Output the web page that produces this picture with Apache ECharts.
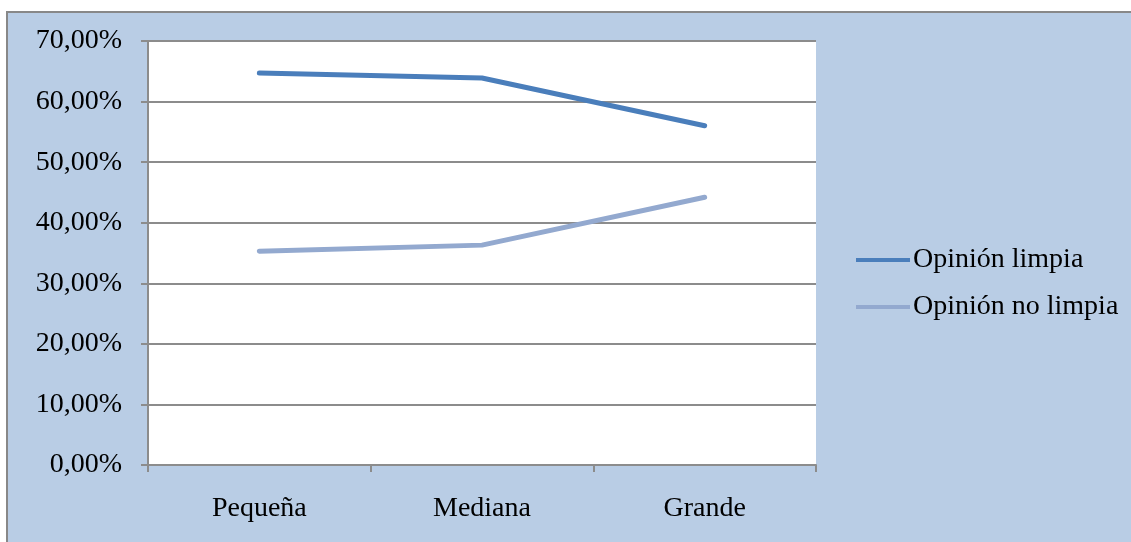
<!DOCTYPE html>
<html lang="es">
<head>
    <meta charset="UTF-8">
    <title>Opinión</title>
    <script src="https://cdn.jsdelivr.net/npm/echarts@6/dist/echarts.min.js"></script>
    <style>
        html, body { margin: 0; padding: 0; background: #fff; }
        #chart { width: 1131px; height: 542px; }
    </style>
</head>
<body>
    <div id="chart"></div>
    <script>
        // datos
        var categorias = ['Pequeña', 'Mediana', 'Grande'];
        var limpia = [64.7, 63.9, 56.0];
        var noLimpia = [35.3, 36.3, 44.2];
        var nombres = ['Opinión limpia', 'Opinión no limpia'];

        var myChart = echarts.init(document.getElementById('chart'));
        var fuente = 'Liberation Serif';

        var option = {
            animation: false,
            backgroundColor: '#fff',
            graphic: [{
                type: 'rect',
                z: -10,
                shape: { x: 7, y: 12, width: 1140, height: 540 },
                style: { fill: '#b9cde5', stroke: '#888888', lineWidth: 2 }
            }],
            grid: { left: 148, top: 41, right: 315, bottom: 77, backgroundColor: '#fff', show: true, borderWidth: 0 },
            legend: {
                orient: 'vertical',
                left: 856,
                top: 246,
                padding: 0,
                itemWidth: 54,
                itemHeight: 14,
                itemGap: 19,
                icon: 'path://M0,5 L54,5 L54,9 L0,9 Z',
                textStyle: { fontFamily: fuente, fontSize: 28, lineHeight: 28, color: '#000', padding: [0, 0, 0, -2] },
                data: nombres
            },
            xAxis: {
                type: 'category',
                data: categorias,
                axisLine: { lineStyle: { color: '#8c8c8c', width: 2 } },
                axisTick: { show: true, length: 7, lineStyle: { color: '#8c8c8c', width: 2 } },
                axisLabel: { fontFamily: fuente, fontSize: 28, color: '#000', margin: 30 }
            },
            yAxis: {
                type: 'value',
                min: 0,
                max: 70,
                interval: 10,
                axisLine: { show: true, lineStyle: { color: '#8c8c8c', width: 2 } },
                axisTick: { show: true, length: 7, lineStyle: { color: '#8c8c8c', width: 2 } },
                splitLine: { lineStyle: { color: '#8c8c8c', width: 2 } },
                axisLabel: {
                    fontFamily: fuente, fontSize: 28, color: '#000', margin: 26,
                    padding: [4, 0, 0, 0],
                    formatter: function (v) { return v.toFixed(2).replace('.', ',') + '%'; }
                }
            },
            series: [{
                name: nombres[0],
                type: 'line',
                data: limpia,
                symbol: 'none',
                color: '#4a7ebb',
                lineStyle: { width: 5, cap: 'round', join: 'round' }
            }, {
                name: nombres[1],
                type: 'line',
                data: noLimpia,
                symbol: 'none',
                color: '#93a9cf',
                lineStyle: { width: 5, cap: 'round', join: 'round' }
            }]
        };

        myChart.setOption(option);
    </script>
</body>
</html>
